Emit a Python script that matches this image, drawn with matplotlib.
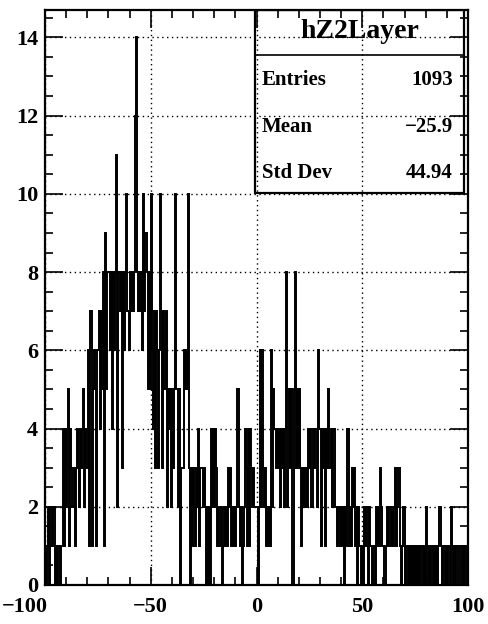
import matplotlib
matplotlib.use("Agg")
import matplotlib.pyplot as plt
from matplotlib.ticker import MultipleLocator
from matplotlib.transforms import ScaledTranslation
import numpy as np

# histogram hZ2Layer: 400 bins from -100 to 100 (width 0.5), counts
x_min, x_max, n_bins = -100.0, 100.0, 400

counts_m100 = [1, 0, 1, 2, 0, 2, 2, 1, 2, 0,  1, 0, 1, 1, 0, 1, 1, 4, 1, 4,
               2, 4, 5, 1, 4, 3, 2, 3, 1, 3,  4, 3, 2, 4, 3, 4, 5, 2, 4, 3,
               3, 6, 1, 7, 1, 5, 6, 5, 1, 6]
counts_m75 = [6, 7, 4, 7, 5, 8, 1, 9, 5, 8,  8, 6, 8, 4, 8, 6, 8, 11, 2, 8,
              8, 7, 8, 3, 8, 6, 8, 10, 7, 6,  8, 7, 8, 7, 8, 12, 14, 8, 7, 8,
              7, 8, 6, 10, 7, 9, 8, 5, 8, 5]
counts_m50 = [10, 6, 4, 7, 3, 7, 6, 3, 6, 10,  7, 3, 7, 5, 7, 2, 5, 4, 5, 2,
              5, 3, 5, 10, 5, 5, 2, 5, 0, 3,  3, 6, 5, 6, 5, 10, 3, 0, 3, 1,
              3, 2, 1, 3, 2, 4, 1, 3, 3, 2]
counts_m25 = [3, 2, 0, 2, 0, 2, 0, 4, 2, 4,  2, 4, 3, 1, 2, 1, 2, 0, 1, 2,
              1, 2, 1, 3, 2, 3, 1, 2, 1, 2,  1, 2, 5, 2, 1, 2, 0, 1, 2, 4,
              3, 1, 4, 1, 4, 3, 2, 3, 2, 2]
counts_0 = [2, 0, 2, 6, 2, 6, 3, 2, 3, 1,  2, 1, 2, 1, 6, 2, 5, 4, 3, 4,
            3, 4, 2, 4, 3, 4, 2, 4, 8, 2,  3, 5, 3, 5, 0, 5, 8, 3, 5, 3,
            5, 3, 1, 3, 2, 3, 2, 3, 2, 4]
counts_25 = [3, 4, 2, 4, 3, 4, 4, 2, 6, 4,  4, 1, 4, 3, 4, 1, 4, 3, 5, 3,
             4, 2, 4, 4, 2, 2, 1, 2, 2, 1,  2, 1, 2, 0, 2, 1, 4, 1, 2, 1,
             3, 2, 3, 1, 2, 0, 2, 1, 1, 0]
counts_50 = [1, 0, 2, 1, 2, 0, 2, 1, 1, 0,  1, 1, 0, 2, 1, 2, 1, 3, 2, 1,
             1, 0, 1, 2, 1, 2, 2, 1, 2, 1,  2, 3, 1, 2, 3, 3, 1, 0, 1, 2,
             0, 1, 1, 0, 1, 0, 1, 0, 1, 0]
counts_75 = [1, 0, 1, 0, 1, 0, 1, 0, 1, 0,  2, 1, 0, 1, 0, 1, 1, 0, 1, 0,
             1, 0, 1, 2, 1, 0, 1, 1, 0, 1,  0, 1, 1, 0, 2, 1, 0, 1, 0, 1,
             1, 0, 1, 1, 0, 1, 0, 1, 1, 0]

x_ticks = [-100, -50, 0, 50, 100]
hist_name = "hZ2Layer"
stat_labels = ["Entries", "Mean", "Std Dev"]
stat_values = ["1093", "\u221225.9", "44.94"]

counts = np.array(counts_m100 + counts_m75 + counts_m50 + counts_m25
                  + counts_0 + counts_25 + counts_50 + counts_75)
edges = np.linspace(x_min, x_max, n_bins + 1)

plt.rcParams['font.family'] = ['Liberation Serif', 'DejaVu Serif']
plt.rcParams['font.weight'] = 'bold'

fig = plt.figure(figsize=(4.88, 6.24), dpi=100)
ax = fig.add_axes([45 / 488, 39 / 624, 423 / 488, 575 / 624])

ax.stairs(counts, edges, color='black', linewidth=1.4)

ax.set_xlim(x_min, x_max)
ax.set_ylim(0, 14.7)
ax.set_xticks(x_ticks)
ax.xaxis.set_minor_locator(MultipleLocator(10))
ax.yaxis.set_major_locator(MultipleLocator(2))
ax.yaxis.set_minor_locator(MultipleLocator(0.5))
ax.tick_params(which='both', direction='in', top=True, right=True, width=1.2)
ax.tick_params(which='major', length=13, labelsize=16)
ax.tick_params(axis='x', which='major', pad=9)
ax.tick_params(axis='y', which='major', pad=5)
ax.tick_params(which='minor', length=6)
first = ax.xaxis.get_major_ticks()[0]
first.label1.set_horizontalalignment('right')
first.label1.set_transform(first.label1.get_transform()
                           + ScaledTranslation(3 / 100, 0, fig.dpi_scale_trans))
for sp in ax.spines.values():
    sp.set_linewidth(1.6)

ax.grid(True, which='major', color='black', linestyle=(0, (1, 2.5)), linewidth=1.0)
ax.set_axisbelow(False)

# stats box (figure pixel coordinates -> axes fraction)
def fx(px):
    return (px - 45) / 423

def fy(py):
    return (585 - py) / 575

box_l, box_r, box_t, box_b, box_sep = fx(255), fx(464), fy(10), fy(193), fy(55)
ax.add_patch(plt.Rectangle((box_l, box_b), box_r - box_l, box_t - box_b,
                           transform=ax.transAxes, fill=False, edgecolor='black',
                           linewidth=1.6, zorder=5))
ax.plot([box_l, box_r], [box_sep, box_sep], transform=ax.transAxes,
        color='black', linewidth=1.2, zorder=5)
ax.text((box_l + box_r) / 2, fy(32), hist_name, transform=ax.transAxes,
        ha='center', va='center', fontsize=20, fontweight='bold', zorder=6)
for i, (lab, val) in enumerate(zip(stat_labels, stat_values)):
    yy = fy(80 + 46.5 * i)
    ax.text(fx(262), yy, lab, transform=ax.transAxes, ha='left', va='center',
            fontsize=15, fontweight='bold', zorder=6)
    ax.text(fx(453), yy, val, transform=ax.transAxes, ha='right', va='center',
            fontsize=15, fontweight='bold', zorder=6)

fig.savefig("out.png", dpi=100)
